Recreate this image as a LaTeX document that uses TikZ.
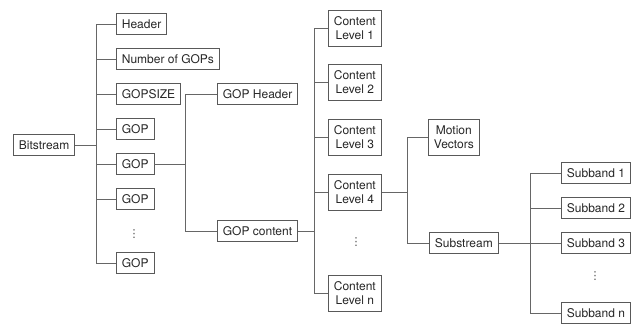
\documentclass[tikz,border=0pt]{standalone}
\usepackage{fontspec}
\setmainfont{TeX Gyre Heros}
\newfontfamily\dotsfont{DejaVu Sans}
\usetikzlibrary{positioning}

\begin{document}
\begin{tikzpicture}[
      x=1pt, y=-1pt, line width=0.8pt,
      link/.style={draw=black!60},
      box/.style={rectangle, draw=black!65, anchor=west, inner xsep=5.5pt, inner ysep=0pt,
                  minimum height=21pt, text=black!85, font=\fontsize{12}{14}\selectfont},
      tall/.style={box, align=center, minimum height=36pt},
      more/.style={text=black!70, font=\dotsfont\fontsize{11}{11}\selectfont}]

      \useasboundingbox (0,0) rectangle (637,327);

      % Nodes
      \node[box] (bits) at (13,145) {Bitstream};

      \node[box] (head) at (116,24)  {Header};
      \node[box] (ngop) at (116,59)  {Number of GOPs};
      \node[box] (size) at (116,94)  {GOPSIZE};
      \node[box] (gopa) at (116,129) {GOP};
      \node[box] (gopb) at (116,164) {GOP};
      \node[box] (gopc) at (116,199) {GOP};
      \node[more] (dotsa) at (134,234) {⋮};
      \node[box] (gopn) at (116,263) {GOP};

      \node[box] (ghdr) at (217,94)  {GOP Header};
      \node[box] (gcnt) at (217,231) {GOP content};

      \node[tall] (cla) at (328,28)  {Content\\Level 1};
      \node[tall] (clb) at (328,82)  {Content\\Level 2};
      \node[tall] (clc) at (328,137) {Content\\Level 3};
      \node[tall] (cld) at (328,192) {Content\\Level 4};
      \node[more] (dotsb) at (356,242) {⋮};
      \node[tall] (cln) at (328,293) {Content\\Level n};

      \node[tall] (mvec) at (428,137) {Motion\\Vectors};
      \node[box]  (subs) at (429,243) {Substream};

      \node[box] (sba) at (561,173) {Subband 1};
      \node[box] (sbb) at (561,208) {Subband 2};
      \node[box] (sbc) at (561,243) {Subband 3};
      \node[more] (dotsc) at (595,276) {⋮};
      \node[box] (sbn) at (561,313) {Subband n};

      % Junctions
      \coordinate (ja) at (96,145);
      \coordinate (jb) at (185,164);
      \coordinate (jc) at (314,231);
      \coordinate (jd) at (407,192);
      \coordinate (je) at (530,243);

      % Edges
      \draw[link] (bits) -- (ja)
            (ja |- head) -- (ja |- gopn)
            (ja |- head) -- (head)
            (ja |- ngop) -- (ngop)
            (ja |- size) -- (size)
            (ja |- gopa) -- (gopa)
            (ja |- gopb) -- (gopb)
            (ja |- gopc) -- (gopc)
            (ja |- gopn) -- (gopn);

      \draw[link] (gopb) -- (jb)
            (jb |- ghdr) -- (jb |- gcnt)
            (jb |- ghdr) -- (ghdr)
            (jb |- gcnt) -- (gcnt);

      \draw[link] (gcnt) -- (jc)
            (jc |- cla) -- (jc |- cln)
            (jc |- cla) -- (cla)
            (jc |- clb) -- (clb)
            (jc |- clc) -- (clc)
            (jc |- cld) -- (cld)
            (jc |- cln) -- (cln);

      \draw[link] (cld) -- (jd)
            (jd |- mvec) -- (jd |- subs)
            (jd |- mvec) -- (mvec)
            (jd |- subs) -- (subs);

      \draw[link] (subs) -- (sbc)
            (je |- sba) -- (je |- sbn)
            (je |- sba) -- (sba)
            (je |- sbb) -- (sbb)
            (je |- sbn) -- (sbn);

    \end{tikzpicture}
\end{document}
